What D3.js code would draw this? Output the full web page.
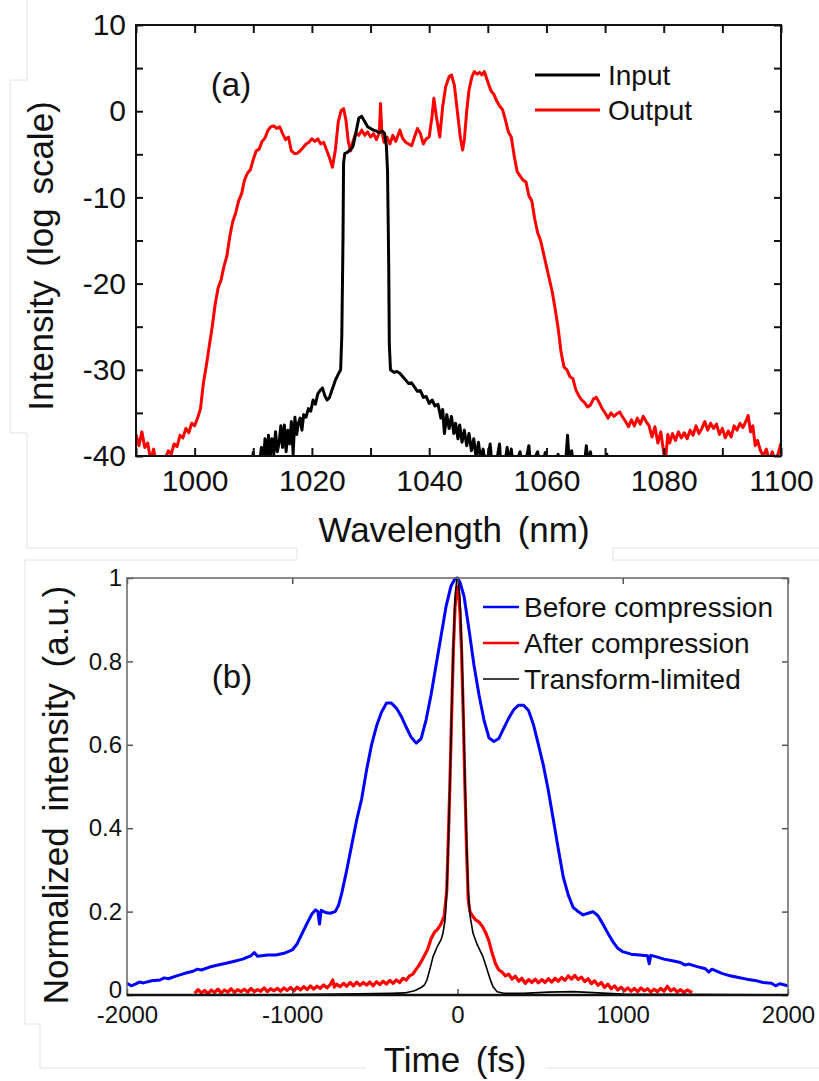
<!DOCTYPE html>
<html>
<head>
<meta charset="utf-8">
<script src="https://cdn.jsdelivr.net/npm/d3@7/dist/d3.min.js"></script>
<style>
body{margin:0;background:#fff;}
text{font-family:"Liberation Sans",Arial,sans-serif;fill:#111;}
</style>
</head>
<body>
<div id="chart"></div>
<script>
// ---- panel (a): spectra, [wavelength nm, intensity dB]
const inputSpec = [[1009.5,-42],[1010,-39.6],[1010.3,-42],[1011,-41],[1011.4,-39],[1011.7,-41],[1012,-38],[1012.3,-40.5],[1012.6,-37.6],[1012.9,-40],[1013.2,-38],[1013.5,-39.8],[1013.8,-37.2],[1014.1,-39.5],[1014.4,-38.5],[1014.7,-36.5],[1015,-39],[1015.3,-36.4],[1015.6,-39.5],[1015.9,-37],[1016.2,-38.6],[1016.5,-36],[1016.8,-39.8],[1017.1,-35.5],[1017.4,-37.5],[1017.7,-36.2],[1018,-35.6],[1018.3,-37],[1018.6,-35.2],[1019,-35.5],[1019.4,-34.5],[1019.8,-34.8],[1020.2,-33.5],[1020.6,-34],[1021,-32.8],[1021.4,-32.4],[1021.8,-32.1],[1022.2,-33],[1022.6,-33.5],[1023,-33.2],[1023.5,-32.2],[1024,-31.2],[1024.5,-30.5],[1024.9,-30],[1025.1,-26],[1025.3,-15],[1025.4,-6],[1025.6,-4.9],[1026,-4.8],[1026.5,-4.5],[1027,-4.1],[1027.5,-2.5],[1028,-0.8],[1028.5,-0.6],[1029,-1.2],[1029.5,-1.8],[1030,-2],[1030.5,-2.2],[1031,-2.3],[1031.5,-2.5],[1032,-2.3],[1032.4,-2.6],[1032.7,-4],[1032.9,-7],[1033.1,-18],[1033.2,-27],[1033.4,-30],[1034,-30.3],[1034.5,-30.2],[1035,-30.4],[1035.5,-30.8],[1036,-31.2],[1036.5,-31.6],[1037,-31.5],[1037.5,-32],[1038,-32.5],[1038.5,-32.4],[1039,-33.2],[1039.5,-33.1],[1040,-33.9],[1040.5,-33.5],[1041,-34.2],[1041.5,-34],[1042,-35.6],[1042.3,-34.6],[1042.6,-37.4],[1043,-35.2],[1043.4,-36.8],[1043.8,-35.4],[1044.2,-37.4],[1044.5,-36.2],[1044.9,-38],[1045.2,-36.4],[1045.6,-38.4],[1046,-37],[1046.4,-38.8],[1046.8,-37.4],[1047.2,-39.4],[1047.6,-38],[1048,-40.2],[1048.4,-38.4],[1048.8,-40.5],[1049.2,-39.2],[1049.6,-41],[1050,-40.2],[1050.4,-38.6],[1050.7,-41],[1051.5,-40.6],[1052,-38.6],[1052.2,-41],[1053,-40.4],[1053.3,-39],[1053.6,-41],[1054,-39.2],[1054.3,-41],[1055,-40.5],[1055.5,-39.5],[1055.8,-41],[1056.5,-40.5],[1057,-38.8],[1057.3,-41],[1058,-40.2],[1058.5,-39.5],[1058.8,-41],[1059.5,-40.4],[1059.8,-39.6],[1060.1,-41],[1061.5,-40.6],[1062,-39.8],[1062.3,-41],[1063.3,-40.5],[1063.6,-37.6],[1063.9,-41],[1064.3,-39.4],[1064.6,-41],[1066.5,-40.8],[1066.8,-38.8],[1067.1,-41],[1067.5,-39.5],[1067.8,-41],[1070,-40.7],[1070.3,-39.8],[1070.6,-41]]

const outputSpec = [[990,-37.5],[990.5,-38.8],[991,-37.2],[991.5,-39],[992,-38.5],[992.5,-40.5],[993,-39.2],[993.5,-41],[994,-40.2],[994.5,-41],[995,-40.3],[995.5,-39.4],[996,-39.8],[996.5,-38.6],[997,-38.9],[997.5,-37.6],[998,-37.9],[998.5,-36.8],[999,-37.3],[999.5,-36.2],[1000,-36.5],[1000.5,-35.6],[1001,-34.5],[1001.5,-31.5],[1002,-29.5],[1002.5,-27.2],[1003,-25],[1003.5,-22.4],[1004,-20.5],[1004.5,-19.6],[1005,-18],[1005.5,-16.8],[1006,-14.5],[1006.5,-12.8],[1007,-11.8],[1007.5,-10.4],[1008,-9.6],[1008.5,-8],[1009,-7.2],[1009.5,-6.8],[1010,-5.6],[1010.5,-4.6],[1011,-4.4],[1011.5,-3.5],[1012,-3.1],[1012.5,-2.2],[1013,-1.8],[1013.5,-1.7],[1014,-2],[1014.5,-1.8],[1015,-2.6],[1015.5,-3.3],[1016,-3],[1016.5,-4.6],[1017,-4.9],[1017.5,-4.9],[1018,-4.6],[1018.5,-4.2],[1019,-3.8],[1019.5,-3.6],[1020,-3.2],[1020.5,-3.5],[1021,-3.2],[1021.5,-3.8],[1022,-3.6],[1022.5,-4.5],[1023,-5.4],[1023.5,-6.5],[1024,-4.5],[1024.5,-1.2],[1025,0.1],[1025.4,0.3],[1025.8,-1],[1026.2,-3.5],[1026.6,-4.6],[1027,-3.5],[1027.5,-2.5],[1028,-2.8],[1028.5,-2.2],[1029,-2.8],[1029.5,-2.4],[1030,-3],[1030.5,-2.6],[1031,-3.3],[1031.5,-2.5],[1031.7,0.9],[1031.9,-2.2],[1032.3,-3.6],[1032.8,-3],[1033.3,-3.8],[1033.8,-2.8],[1034.3,-3.5],[1035,-2.2],[1035.5,-3.2],[1036,-3.6],[1036.5,-3.8],[1037,-4],[1037.5,-3],[1038,-2],[1038.5,-2.6],[1039,-3.8],[1039.5,-3.2],[1040,-3],[1040.5,-0.5],[1040.8,1.5],[1041.2,-0.5],[1041.8,-3],[1042.3,0.5],[1042.8,2.8],[1043.4,4],[1043.8,4.2],[1044.3,3],[1044.8,0],[1045.3,-3],[1045.7,-4.5],[1046,-3.3],[1046.4,0],[1046.8,2.5],[1047.3,4],[1047.7,4.6],[1048.2,4.3],[1048.6,4.5],[1049,4.2],[1049.4,4.6],[1049.8,3.8],[1050.2,3],[1050.6,2.3],[1051,2],[1051.5,1.2],[1052,0.6],[1052.5,0.2],[1053,-1],[1053.5,-2.4],[1054,-3],[1054.5,-5.2],[1055,-7],[1055.5,-7.5],[1056,-8],[1056.5,-8.2],[1057,-9.8],[1057.5,-10.4],[1058,-12.5],[1058.5,-14.1],[1059,-15],[1059.5,-16.5],[1060,-18],[1060.5,-19.5],[1061,-21],[1061.5,-23],[1062,-25.2],[1062.5,-28],[1063,-29.7],[1063.5,-30],[1064,-30.8],[1064.5,-31],[1065,-32.3],[1065.5,-33],[1066,-33.5],[1066.5,-33.8],[1067,-34.3],[1067.5,-34.1],[1068,-33.4],[1068.5,-33.2],[1069,-33.8],[1069.5,-34.5],[1070,-35],[1070.5,-35.6],[1071,-35],[1071.5,-35.4],[1072,-35.1],[1072.5,-34.9],[1073,-35.5],[1073.5,-36],[1074,-36.6],[1074.5,-35.8],[1075,-36.5],[1075.5,-35.6],[1076,-36.3],[1076.5,-35.4],[1077,-36],[1077.5,-36.5],[1078,-37.8],[1078.5,-36.6],[1079,-38.5],[1079.5,-37.2],[1080,-39.6],[1080.3,-40.5],[1080.7,-37.5],[1081,-38.5],[1081.5,-37.4],[1082,-38.2],[1082.5,-37.2],[1083,-37.9],[1083.5,-37.3],[1084,-38],[1084.5,-37],[1085,-37.6],[1085.5,-36.5],[1086,-37.4],[1086.5,-36.8],[1087,-36],[1087.5,-37],[1088,-36.2],[1088.5,-36.8],[1089,-36.3],[1089.5,-37.5],[1090,-36.8],[1090.5,-37.9],[1091,-37.1],[1091.5,-37.8],[1092,-36.5],[1092.5,-37],[1093,-36.2],[1093.5,-36.7],[1094,-36],[1094.4,-35.3],[1094.8,-37.2],[1095.2,-36.5],[1095.6,-38.8],[1096,-38.2],[1096.5,-39.4],[1097,-40],[1097.5,-39.2],[1098,-40.6],[1098.5,-39.5],[1099,-40.5],[1099.5,-39.8],[1100,-38.5]]

const wlTicks = [1000,1020,1040,1060,1080,1100]
const dbTicks = [-40,-30,-20,-10,0,10]

// ---- panel (b): autocorrelation traces, [time fs, normalized intensity]
const beforeTrace = [[-2000,0.028],[-1975,0.022],[-1950,0.026],[-1925,0.031],[-1900,0.029],[-1850,0.034],[-1800,0.036],[-1775,0.041],[-1750,0.039],[-1700,0.046],[-1650,0.052],[-1600,0.057],[-1575,0.062],[-1550,0.06],[-1500,0.067],[-1450,0.072],[-1400,0.076],[-1350,0.081],[-1300,0.086],[-1275,0.09],[-1250,0.094],[-1230,0.102],[-1210,0.093],[-1150,0.096],[-1100,0.096],[-1050,0.1],[-1000,0.108],[-970,0.123],[-940,0.148],[-910,0.172],[-880,0.195],[-860,0.204],[-845,0.2],[-835,0.17],[-825,0.203],[-800,0.198],[-770,0.196],[-740,0.2],[-720,0.215],[-700,0.245],[-670,0.3],[-640,0.36],[-610,0.42],[-580,0.47],[-550,0.54],[-520,0.6],[-490,0.645],[-460,0.678],[-430,0.7],[-400,0.7],[-370,0.688],[-340,0.668],[-310,0.642],[-280,0.618],[-250,0.604],[-220,0.615],[-190,0.66],[-160,0.72],[-130,0.79],[-100,0.86],[-70,0.93],[-40,0.98],[-15,0.998],[0,1.0],[15,0.99],[40,0.955],[70,0.875],[100,0.79],[130,0.72],[160,0.66],[190,0.617],[220,0.608],[250,0.615],[280,0.64],[310,0.664],[340,0.684],[370,0.695],[400,0.695],[430,0.682],[460,0.648],[490,0.6],[520,0.55],[550,0.49],[580,0.42],[610,0.35],[640,0.283],[670,0.24],[700,0.21],[730,0.2],[760,0.192],[790,0.196],[820,0.2],[850,0.19],[880,0.17],[910,0.148],[940,0.128],[970,0.112],[1000,0.104],[1050,0.098],[1100,0.096],[1150,0.094],[1160,0.075],[1170,0.095],[1200,0.092],[1250,0.086],[1300,0.082],[1350,0.078],[1375,0.072],[1400,0.074],[1450,0.068],[1500,0.063],[1520,0.055],[1540,0.062],[1600,0.052],[1650,0.046],[1700,0.042],[1750,0.038],[1800,0.035],[1850,0.03],[1900,0.028],[1925,0.022],[1950,0.027],[2000,0.022]]

const afterTrace = [[-1590,0.004],[-1570,0.013],[-1550,0.005],[-1530,0.011],[-1510,0.003],[-1490,0.012],[-1470,0.006],[-1450,0.014],[-1430,0.005],[-1410,0.012],[-1390,0.007],[-1370,0.015],[-1350,0.006],[-1330,0.013],[-1310,0.008],[-1290,0.014],[-1270,0.007],[-1250,0.016],[-1230,0.008],[-1210,0.013],[-1190,0.009],[-1170,0.017],[-1150,0.008],[-1130,0.015],[-1110,0.01],[-1090,0.016],[-1070,0.009],[-1050,0.017],[-1030,0.011],[-1010,0.018],[-990,0.01],[-970,0.019],[-950,0.012],[-930,0.02],[-910,0.013],[-890,0.022],[-870,0.014],[-850,0.021],[-830,0.016],[-810,0.024],[-790,0.017],[-770,0.025],[-755,0.036],[-745,0.019],[-730,0.026],[-710,0.02],[-690,0.028],[-670,0.021],[-650,0.03],[-630,0.022],[-610,0.031],[-590,0.023],[-570,0.03],[-550,0.024],[-530,0.031],[-510,0.022],[-490,0.032],[-470,0.025],[-450,0.033],[-430,0.026],[-410,0.035],[-390,0.028],[-370,0.036],[-350,0.03],[-330,0.04],[-310,0.036],[-290,0.046],[-270,0.05],[-250,0.062],[-235,0.07],[-220,0.08],[-200,0.095],[-180,0.11],[-160,0.135],[-140,0.15],[-120,0.158],[-100,0.17],[-80,0.19],[-65,0.25],[-55,0.38],[-45,0.52],[-35,0.68],[-25,0.83],[-15,0.93],[-5,0.975],[0,0.98],[5,0.97],[15,0.92],[25,0.82],[35,0.67],[45,0.5],[55,0.35],[65,0.23],[75,0.2],[90,0.19],[110,0.18],[130,0.175],[150,0.165],[170,0.15],[190,0.13],[210,0.1],[230,0.075],[250,0.06],[270,0.055],[290,0.046],[310,0.05],[330,0.038],[350,0.045],[370,0.033],[390,0.04],[410,0.028],[430,0.037],[450,0.03],[470,0.038],[490,0.029],[510,0.037],[530,0.03],[550,0.039],[570,0.031],[590,0.04],[610,0.033],[630,0.042],[650,0.035],[670,0.046],[690,0.038],[710,0.047],[730,0.037],[750,0.043],[770,0.032],[790,0.039],[810,0.027],[830,0.034],[850,0.023],[870,0.03],[890,0.018],[910,0.026],[930,0.015],[950,0.022],[970,0.012],[990,0.019],[1010,0.01],[1030,0.017],[1050,0.009],[1070,0.016],[1090,0.008],[1110,0.017],[1130,0.01],[1150,0.015],[1170,0.007],[1190,0.014],[1210,0.008],[1230,0.016],[1250,0.009],[1270,0.021],[1290,0.01],[1310,0.015],[1330,0.007],[1350,0.013],[1370,0.006],[1390,0.012],[1420,0.006]]

const tlTrace = [[-2000,0],[-1000,0.001],[-600,0.003],[-400,0.004],[-320,0.005],[-260,0.01],[-220,0.018],[-200,0.024],[-185,0.036],[-165,0.065],[-148,0.092],[-120,0.118],[-100,0.132],[-88,0.148],[-75,0.18],[-65,0.25],[-55,0.37],[-45,0.52],[-35,0.69],[-25,0.84],[-15,0.95],[-5,0.995],[0,1],[5,0.995],[15,0.95],[25,0.84],[35,0.69],[45,0.52],[55,0.37],[65,0.25],[76,0.19],[94,0.148],[120,0.12],[154,0.092],[180,0.06],[200,0.035],[215,0.02],[240,0.008],[280,0.004],[400,0.004],[550,0.007],[700,0.008],[850,0.005],[1000,0.002],[2000,0]]

const timeTicks = [-2000,-1000,0,1000,2000]
const normTicks = [0,0.2,0.4,0.6,0.8,1]

const w = 819, h = 1081

let svg = d3.select('#chart').append('svg')
	.attr('width', w)
	.attr('height', h)

//faint scan borders around the two panels
let edges = svg.append('g').attr('fill', 'none').attr('stroke', '#e2e2e2').attr('stroke-width', 1)
const edgePaths = [
	'M27,0V80H10V433H27V548H297V560',
	'M613,560V548H819',
	'M819,560H613M297,560H25V1024H40V1068H366',
	'M545,1068H819'
]
edgePaths.forEach(p => edges.append('path').attr('d', p))

/*
	panel (a)
*/
let xA = d3.scaleLinear().domain([990, 1100]).range([136, 781])
let yA = d3.scaleLinear().domain([-40, 10]).range([456, 25])

let gA = svg.append('g')

gA.append('clipPath').attr('id', 'clipA')
	.append('rect').attr('x', 136).attr('y', 25).attr('width', 645).attr('height', 431)

let lineA = d3.line().x(d => xA(d[0])).y(d => yA(d[1]))

gA.append('path').datum(outputSpec)
	.attr('d', lineA).attr('fill', 'none').attr('stroke', '#ff0000').attr('stroke-width', 3)
	.attr('stroke-linejoin', 'round').attr('clip-path', 'url(#clipA)')
gA.append('path').datum(inputSpec)
	.attr('d', lineA).attr('fill', 'none').attr('stroke', '#000').attr('stroke-width', 3)
	.attr('stroke-linejoin', 'round').attr('clip-path', 'url(#clipA)')

//axes, ticks inward
let wlAll = d3.range(990, 1101, 10)
let dbAll = d3.range(-40, 11, 5)
let fontA = 30

let axB = gA.append('g').attr('transform', 'translate(0,456)')
	.call(d3.axisBottom(xA).tickValues(wlAll).tickSizeInner(-8).tickSizeOuter(0).tickPadding(14)
		.tickFormat(d => wlTicks.includes(d) ? String(d) : ''))
let axT = gA.append('g').attr('transform', 'translate(0,25)')
	.call(d3.axisTop(xA).tickValues(wlAll).tickSizeInner(-8).tickSizeOuter(0).tickFormat(''))
let axL = gA.append('g').attr('transform', 'translate(136,0)')
	.call(d3.axisLeft(yA).tickValues(dbAll).tickSizeInner(-7).tickSizeOuter(0).tickPadding(10)
		.tickFormat(d => dbTicks.includes(d) ? String(d) : ''))
let axR = gA.append('g').attr('transform', 'translate(781,0)')
	.call(d3.axisRight(yA).tickValues(dbAll).tickSizeInner(-7).tickSizeOuter(0).tickFormat(''))

;[axB, axT, axL, axR].forEach(a => {
	a.select('.domain').remove()
	a.selectAll('line').attr('stroke', '#111').attr('stroke-width', 2)
	a.selectAll('text').attr('font-size', fontA).attr('font-family', '"Liberation Sans",Arial,sans-serif').attr('fill', '#111')
})

gA.append('rect').attr('x', 136).attr('y', 25).attr('width', 645).attr('height', 431)
	.attr('fill', 'none').attr('stroke', '#111').attr('stroke-width', 2)

gA.append('text').attr('x', 454).attr('y', 542).attr('text-anchor', 'middle')
	.attr('font-size', 35).attr('word-spacing', 6).text('Wavelength (nm)')
gA.append('text').attr('transform', 'translate(53,256) rotate(-90)').attr('text-anchor', 'middle')
	.attr('font-size', 35).attr('word-spacing', 4).text('Intensity (log scale)')

gA.append('text').attr('x', 231).attr('y', 96).attr('text-anchor', 'middle')
	.attr('font-family', '"Liberation Serif","Times New Roman",serif').attr('font-size', 33).text('(a)')

//legend a
const legendA = [{name: 'Input', color: '#000'}, {name: 'Output', color: '#ff0000'}]
let legA = gA.selectAll('.legA').data(legendA).join('g')
	.attr('class', 'legA').attr('transform', (d, i) => `translate(535,${75 + i * 35})`)
legA.append('line').attr('x1', 0).attr('x2', 65).attr('stroke', d => d.color).attr('stroke-width', 3)
legA.append('text').attr('x', 73).attr('dy', '0.35em').attr('font-size', 28).text(d => d.name)

/*
	panel (b)
*/
let xB = d3.scaleLinear().domain([-2000, 2000]).range([127, 788])
let yB = d3.scaleLinear().domain([0, 1]).range([995, 578])

let gB = svg.append('g')

gB.append('clipPath').attr('id', 'clipB')
	.append('rect').attr('x', 127).attr('y', 575).attr('width', 661).attr('height', 420)

let lineB = d3.line().x(d => xB(d[0])).y(d => yB(d[1]))

gB.append('path').datum(beforeTrace)
	.attr('d', lineB).attr('fill', 'none').attr('stroke', '#0000ff').attr('stroke-width', 3)
	.attr('stroke-linejoin', 'round').attr('clip-path', 'url(#clipB)')
gB.append('path').datum(afterTrace)
	.attr('d', lineB).attr('fill', 'none').attr('stroke', '#ff0000').attr('stroke-width', 3.2)
	.attr('stroke-linejoin', 'round').attr('clip-path', 'url(#clipB)')
gB.append('path').datum(tlTrace)
	.attr('d', lineB).attr('fill', 'none').attr('stroke', '#000').attr('stroke-width', 1.6)
	.attr('stroke-linejoin', 'round').attr('clip-path', 'url(#clipB)')

let fontB = 24
let bxB = gB.append('g').attr('transform', 'translate(0,995)')
	.call(d3.axisBottom(xB).tickValues(timeTicks).tickSizeInner(-6).tickSizeOuter(0).tickPadding(11)
		.tickFormat(d => String(d)))
let bxT = gB.append('g').attr('transform', 'translate(0,578)')
	.call(d3.axisTop(xB).tickValues(timeTicks).tickSizeInner(-6).tickSizeOuter(0).tickFormat(''))
let bxL = gB.append('g').attr('transform', 'translate(127,0)')
	.call(d3.axisLeft(yB).tickValues(normTicks).tickSizeInner(-6).tickSizeOuter(0).tickPadding(5)
		.tickFormat(d => String(d)))
let bxR = gB.append('g').attr('transform', 'translate(788,0)')
	.call(d3.axisRight(yB).tickValues(normTicks).tickSizeInner(-6).tickSizeOuter(0).tickFormat(''))

;[bxB, bxT, bxL, bxR].forEach(a => {
	a.select('.domain').remove()
	a.selectAll('line').attr('stroke', '#555').attr('stroke-width', 1.5)
	a.selectAll('text').attr('font-size', fontB).attr('font-family', '"Liberation Sans",Arial,sans-serif').attr('fill', '#111')
})
//zero label sits a little high, clear of the -2000 label below it
bxL.selectAll('.tick').filter(d => d === 0).select('text').attr('dy', '0.1em')

gB.append('rect').attr('x', 127).attr('y', 578).attr('width', 661).attr('height', 417)
	.attr('fill', 'none').attr('stroke', '#666').attr('stroke-width', 1.5)
gB.append('line').attr('x1', 127).attr('x2', 788).attr('y1', 995).attr('y2', 995)
	.attr('stroke', '#111').attr('stroke-width', 2.5)

gB.append('text').attr('x', 455).attr('y', 1072).attr('text-anchor', 'middle')
	.attr('font-size', 35).attr('word-spacing', 6).text('Time (fs)')
gB.append('text').attr('transform', 'translate(68,795) rotate(-90)').attr('text-anchor', 'middle')
	.attr('font-size', 35).attr('word-spacing', 6).text('Normalized intensity (a.u.)')

gB.append('text').attr('x', 232).attr('y', 688).attr('text-anchor', 'middle')
	.attr('font-family', '"Liberation Serif","Times New Roman",serif').attr('font-size', 33).text('(b)')

//legend b
const legendB = [
	{name: 'Before compression', color: '#0000ff', width: 2.6},
	{name: 'After compression', color: '#ff0000', width: 2.6},
	{name: 'Transform-limited', color: '#000', width: 1.6}
]
let legB = gB.selectAll('.legB').data(legendB).join('g')
	.attr('class', 'legB').attr('transform', (d, i) => `translate(483,${607 + i * 36})`)
legB.append('line').attr('x1', 0).attr('x2', 36).attr('stroke', d => d.color).attr('stroke-width', d => d.width)
legB.append('text').attr('x', 41).attr('dy', '0.35em').attr('font-size', 28).text(d => d.name)
</script>
</body>
</html>
